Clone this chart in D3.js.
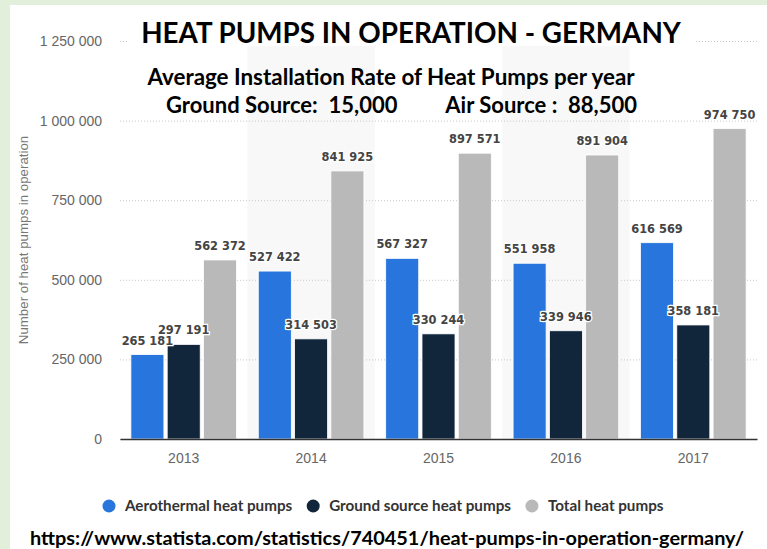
<!DOCTYPE html>
<html>
<head>
<meta charset="utf-8">
<script src="https://cdn.jsdelivr.net/npm/d3@7"></script>
<style>
  body { margin: 0; background: #e2efda; }
  svg { display: block; }
  .tick text { font-family: "Liberation Sans", Arial, sans-serif; }
  .valueLabel { font-family: "DejaVu Sans", Verdana, sans-serif; font-weight: bold; font-size: 11.4px; fill: #444; stroke: #fff; stroke-width: 2.5px; paint-order: stroke; }
  .headline { font-family: Lato, sans-serif; font-weight: bold; fill: #000; }
</style>
</head>
<body>
<div id="chart"></div>
<script>
// Heat pumps in operation, Germany (statista 740451)
const YEARS = ["2013", "2014", "2015", "2016", "2017"];
const SERIES = ["Aerothermal heat pumps", "Ground source heat pumps", "Total heat pumps"];
const AEROTHERMAL = [265181, 527422, 567327, 551958, 616569];
const GROUND_SOURCE = [297191, 314503, 330244, 339946, 358181];
const TOTAL = [562372, 841925, 897571, 891904, 974750];
const Y_TICKS = [0, 250000, 500000, 750000, 1000000, 1250000];
const COLORS = ["#2876dd", "#12263b", "#b9b9b9"];

const W = 767, H = 549;
const margin = { top: 41, left: 120, right: 10, bottom: 110 };

const svg = d3.select("#chart")
  .append("svg")
    .attr("width", W)
    .attr("height", H);

// white panel on the green page
svg.append("rect")
  .attr("x", 10).attr("y", 5)
  .attr("width", W - 10).attr("height", H - 5)
  .attr("fill", "#fff");

const columns = [AEROTHERMAL, GROUND_SOURCE, TOTAL];
const data = YEARS.map((year, i) => ({
  year: year,
  values: SERIES.map((key, j) => ({ key: key, value: columns[j][i] }))
}));

const x0 = d3.scaleBand()
  .domain(YEARS)
  .range([margin.left, W - margin.right]);

const x1 = d3.scaleBand()
  .domain(SERIES)
  .range([0, x0.bandwidth()])
  .paddingInner(0.09)
  .paddingOuter(0.3);

const y = d3.scaleLinear()
  .domain([0, 1250000])
  .range([H - margin.bottom, margin.top]);

const color = d3.scaleOrdinal().domain(SERIES).range(COLORS);

// alternating shaded columns
svg.append("g")
  .selectAll("rect")
  .data(YEARS.filter((d, i) => i % 2 === 1))
  .join("rect")
    .attr("x", d => x0(d))
    .attr("y", y(1250000))
    .attr("width", x0.bandwidth())
    .attr("height", y(0) - y(1250000))
    .attr("fill", "#f8f8f8");

// Y axis with dotted gridlines
const fmt = v => d3.format(",")(v).replace(/,/g, " ");
const yAxis = svg.append("g")
  .attr("transform", "translate(" + margin.left + ",0)")
  .call(d3.axisLeft(y)
    .tickValues(Y_TICKS)
    .tickSize(-(W - margin.left - margin.right))
    .tickPadding(18)
    .tickFormat(fmt));
yAxis.select(".domain").remove();
yAxis.selectAll(".tick line")
  .attr("stroke", "#c8c8c8")
  .attr("stroke-dasharray", "1,2");
yAxis.selectAll(".tick text")
  .attr("fill", "#666")
  .attr("font-size", 14);

// Y axis label
svg.append("text")
  .attr("transform", "translate(28," + y(625000) + ") rotate(-90)")
  .attr("text-anchor", "middle")
  .attr("font-family", "Liberation Sans, Arial, sans-serif")
  .attr("font-size", 13.3)
  .attr("fill", "#777")
  .text("Number of heat pumps in operation");

// bars
const groups = svg.append("g")
  .selectAll("g")
  .data(data)
  .join("g")
    .attr("transform", d => "translate(" + x0(d.year) + ",0)");

groups.selectAll("rect")
  .data(d => d.values)
  .join("rect")
    .attr("x", d => x1(d.key))
    .attr("y", d => y(d.value))
    .attr("width", x1.bandwidth())
    .attr("height", d => y(0) - y(d.value))
    .attr("fill", d => color(d.key))
    .attr("stroke", "#fff")
    .attr("stroke-width", 0.8);

groups.selectAll("text")
  .data(d => d.values)
  .join("text")
    .attr("class", "valueLabel")
    .attr("x", d => x1(d.key) + x1.bandwidth() / 2)
    .attr("y", d => y(d.value) - 10)
    .attr("text-anchor", "middle")
    .text(d => fmt(d.value));

// X axis
const xAxis = svg.append("g")
  .attr("transform", "translate(0," + y(0) + ")")
  .call(d3.axisBottom(x0).tickSize(0).tickPadding(14));
xAxis.select(".domain").attr("stroke", "#333").attr("stroke-width", 1.5);
xAxis.selectAll(".tick text")
  .attr("fill", "#666")
  .attr("font-size", 14);

// legend
const legend = svg.append("g")
  .attr("transform", "translate(109,506)");
let lx = 0;
SERIES.forEach(key => {
  const item = legend.append("g").attr("transform", "translate(" + lx + ",0)");
  item.append("circle")
    .attr("r", 6.5)
    .attr("fill", color(key));
  const t = item.append("text")
    .attr("x", 16)
    .attr("dy", "0.35em")
    .attr("font-family", "Lato, sans-serif")
    .attr("font-weight", "bold")
    .attr("font-size", 15.2)
    .attr("fill", "#333")
    .text(key);
  lx += 16 + t.node().getComputedTextLength() + 21;
});

// headline block with a white box behind the title
const title = svg.append("text")
  .attr("class", "headline")
  .attr("x", 411).attr("y", 43)
  .attr("text-anchor", "middle")
  .attr("font-size", 27.8)
  .text("HEAT PUMPS IN OPERATION - GERMANY");
const tb = title.node().getBBox();
svg.insert("rect", ".headline")
  .attr("x", tb.x - 12).attr("y", 16)
  .attr("width", tb.width + 24).attr("height", 30)
  .attr("fill", "#fff");

svg.append("text")
  .attr("class", "headline")
  .attr("x", 391).attr("y", 85)
  .attr("text-anchor", "middle")
  .attr("font-size", 22.4)
  .text("Average Installation Rate of Heat Pumps per year");

svg.append("text")
  .attr("class", "headline")
  .attr("x", 166).attr("y", 113)
  .attr("font-size", 22)
  .text("Ground Source:\u00a0\u00a015,000");

svg.append("text")
  .attr("class", "headline")
  .attr("x", 637).attr("y", 113)
  .attr("text-anchor", "end")
  .attr("font-size", 22)
  .text("Air Source :\u00a0\u00a088,500");

svg.append("text")
  .attr("class", "headline")
  .attr("x", 30).attr("y", 545)
  .attr("font-size", 19.9)
  .text("https://www.statista.com/statistics/740451/heat-pumps-in-operation-germany/");
</script>
</body>
</html>
